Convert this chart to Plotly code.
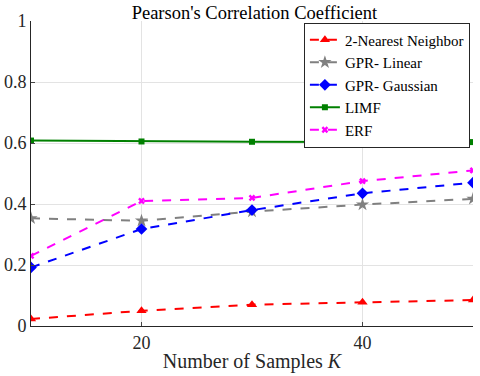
import plotly.graph_objects as go

samples = [10, 20, 30, 40, 50]
nearest_neighbor = [0.023, 0.050, 0.070, 0.078, 0.085]
gpr_linear = [0.353, 0.345, 0.375, 0.398, 0.417]
gpr_gaussian = [0.192, 0.318, 0.380, 0.435, 0.470]
limf = [0.608, 0.605, 0.604, 0.603, 0.603]
erf = [0.230, 0.410, 0.420, 0.475, 0.510]

series = [
    ("2-Nearest Neighbor", nearest_neighbor, "#ff0000", "triangle-up", 9, "dash"),
    ("GPR- Linear", gpr_linear, "#808080", "star", 10, "dash"),
    ("GPR- Gaussian", gpr_gaussian, "#0000ff", "diamond", 9, "dash"),
    ("LIMF", limf, "#008000", "square", 6, "solid"),
    ("ERF", erf, "#ff00ff", "x", 6, "dash"),
]

fig = go.Figure()
for name, vals, color, symbol, size, dash in series:
    fig.add_trace(go.Scatter(
        x=samples, y=vals, name=name, mode="lines+markers",
        line=dict(color=color, width=2, dash=dash),
        marker=dict(symbol=symbol, size=size, color=color),
    ))

serif = "Liberation Serif"
fig.update_layout(
    width=480, height=376,
    margin=dict(l=31, r=7, t=21, b=50),
    paper_bgcolor="white", plot_bgcolor="white",
    font=dict(family=serif, size=18, color="#262626"),
    title=dict(text="Pearson's Correlation Coefficient", x=0.53, xanchor="center",
               y=0.966, yanchor="middle", font=dict(size=18.5, color="black")),
    showlegend=True,
    legend=dict(x=0.993, y=0.995, xanchor="right", yanchor="top",
                bgcolor="white", bordercolor="#262626", borderwidth=1,
                font=dict(size=15, color="black"), tracegroupgap=0,
                itemwidth=30),
)
fig.update_xaxes(
    range=[10, 50], tickvals=[20, 40], showgrid=True, gridcolor="#e3e3e3",
    showline=True, linecolor="#262626", linewidth=1, ticks="inside", ticklen=4,
    zeroline=False, automargin=False,
    title=dict(text="Number of Samples <i>K</i>", standoff=2, font=dict(size=20)),
)
fig.update_yaxes(
    range=[0, 1], tickvals=[0, 0.2, 0.4, 0.6, 0.8, 1], ticktext=["0", "0.2", "0.4", "0.6", "0.8", "1"],
    showgrid=True, gridcolor="#e3e3e3", showline=True, linecolor="#262626", linewidth=1,
    ticks="inside", ticklen=4, zeroline=False, automargin=False,
)

fig.write_html("out.html", config={"displayModeBar": False},
               post_script="document.body.style.margin='0';")
